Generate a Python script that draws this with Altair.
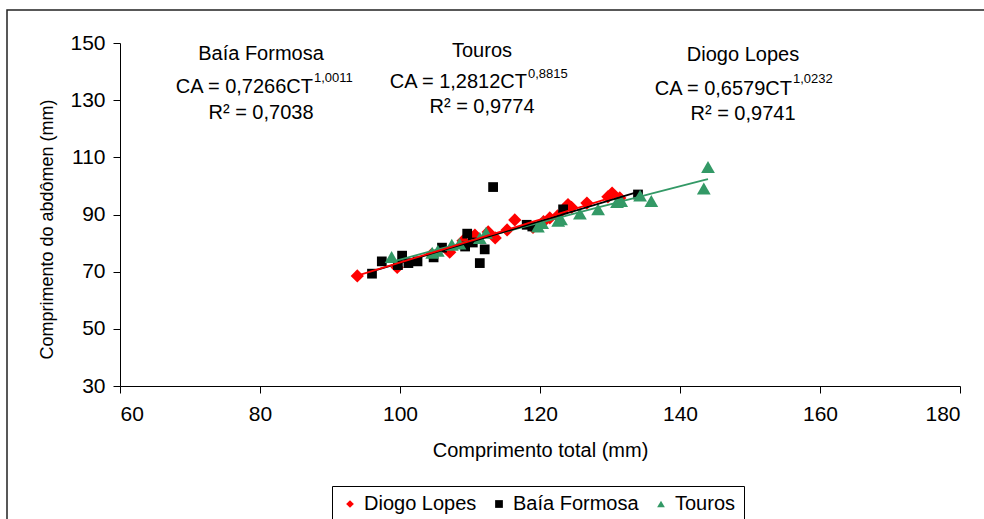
import altair as alt
import pandas as pd

# Series names, colours, marker shapes and marker areas (legend order)
sites = ["Diogo Lopes", "Baía Formosa", "Touros"]
colors = ["#ff0000", "#000000", "#339966"]
shapes = ["diamond", "square", "triangle-up"]
marker_sizes = [175, 95, 190]

# Power fits CA = a * CT^b for each site
fit_a = [0.6579, 0.7266, 1.2812]
fit_b = [1.0232, 1.0011, 0.8815]
fit_a_txt = ["0,6579", "0,7266", "1,2812"]
fit_b_txt = ["1,0232", "1,0011", "0,8815"]
fit_r2_txt = ["0,9741", "0,7038", "0,9774"]

# Comprimento total (CT) and comprimento do abdômen (CA), in mm
dl_ct = [93.9, 99.6, 104.5, 107.1, 109.0, 110.7, 112.6, 113.6, 115.3, 116.4,
         119.0, 120.5, 121.4, 122.5, 124.0, 124.5, 126.7, 129.7, 130.3, 131.4]
dl_ca = [68.5, 71.5, 76.0, 76.8, 80.8, 82.8, 83.9, 81.8, 84.6, 88.1,
         85.5, 87.5, 88.8, 89.5, 93.5, 92.5, 94.0, 96.2, 97.5, 95.8]

bf_ct = [96.0, 97.4, 99.7, 100.3, 101.2, 102.5, 104.8, 106.0, 109.3, 109.6,
         110.4, 111.4, 112.1, 113.3, 118.1, 118.9, 123.3, 134.0]
bf_ca = [69.3, 73.6, 72.3, 75.6, 73.0, 73.6, 75.0, 78.4, 78.8, 83.3,
         80.2, 73.0, 77.8, 99.6, 86.4, 85.8, 91.8, 97.0]

to_ct = [98.8, 104.6, 105.4, 107.4, 108.5, 111.4, 112.3, 119.7, 120.3, 122.6,
         123.0, 125.7, 128.3, 131.0, 131.6, 134.3, 135.9, 143.4, 144.0]
to_ca = [75.1, 76.6, 77.3, 79.4, 79.8, 81.8, 83.6, 85.8, 87.0, 87.8,
         88.3, 90.3, 91.8, 94.4, 94.7, 96.6, 94.7, 99.1, 106.6]

series_ct = [dl_ct, bf_ct, to_ct]
series_ca = [dl_ca, bf_ca, to_ca]

rows = []
for i, site in enumerate(sites):
    for ct, ca in zip(series_ct[i], series_ca[i]):
        rows.append({"site": site, "CT": ct, "CA": ca, "a": fit_a[i], "b": fit_b[i]})
df = pd.DataFrame(rows)

FONT = "Liberation Sans"

x_enc = alt.X(
    "CT:Q",
    scale=alt.Scale(domain=[60, 180], nice=False, zero=False),
    axis=alt.Axis(
        title="Comprimento total (mm)",
        values=[60, 80, 100, 120, 140, 160, 180],
        labelPadding=10,
        titleY=70,
        titleBaseline="alphabetic",
    ),
)

def y_enc(field):
    return alt.Y(
        field,
        scale=alt.Scale(domain=[30, 150], nice=False, zero=False),
        axis=alt.Axis(
            title="Comprimento do abdômen (mm)",
            values=[30, 50, 70, 90, 110, 130, 150],
            labelPadding=8,
            titleX=-68,
            titleY=186,
            titleAngle=-90,
            titleAlign="center",
            titleBaseline="alphabetic",
            titleFontSize=18,
        ),
    )

# Outer frame around the figure
frame = alt.Chart(alt.Data(values=[{}])).mark_rect(
    fill="transparent", stroke="#222222", strokeWidth=1.5
).encode(x=alt.value(-113), x2=alt.value(900), y=alt.value(-33), y2=alt.value(520))

# Marker area per site, kept out of the legend
size_expr = " : ".join(
    f"datum.site === '{s}' ? {marker_sizes[i]}" for i, s in enumerate(sites[:-1])
) + f" : {marker_sizes[-1]}"

points = alt.Chart(df).transform_calculate(msize=size_expr).mark_point(
    filled=True, opacity=1
).encode(
    x=x_enc,
    y=y_enc("CA:Q"),
    color=alt.Color("site:N", scale=alt.Scale(domain=sites, range=colors),
                    legend=alt.Legend(title=None)),
    shape=alt.Shape("site:N", scale=alt.Scale(domain=sites, range=shapes),
                    legend=alt.Legend(title=None)),
    size=alt.Size("msize:Q", scale=None),
)

# Fitted power curves, evaluated at each site's own CT values
line_order = [2, 1, 0]
lines = []
for i in line_order:
    lines.append(
        alt.Chart(df)
        .transform_filter(alt.datum.site == sites[i])
        .transform_calculate(fit="datum.a * pow(datum.CT, datum.b)")
        .mark_line(color=colors[i], strokeWidth=1.8)
        .encode(x=x_enc, y=y_enc("fit:Q"), order="CT:Q")
    )

# Equation annotations: site name, equation with raised exponent, R²
ann_name_x = [623, 141, 362]
ann_name_y = [18, 17, 14]
ann_eq_x = [672, 193, 407]
ann_eq_y = [52, 50, 45]
ann_sup_y = [40, 39, 35]
ann_r2_y = [77, 76, 70]

texts = []
one = alt.Data(values=[{}])
for i in range(3):
    base = alt.Chart(one)
    texts.append(base.mark_text(text=sites[i], fontSize=20, font=FONT, align="center",
                                baseline="alphabetic", color="black")
                 .encode(x=alt.value(ann_name_x[i]), y=alt.value(ann_name_y[i])))
    texts.append(base.mark_text(text=f"CA = {fit_a_txt[i]}CT", fontSize=20, font=FONT,
                                align="right", baseline="alphabetic", color="black")
                 .encode(x=alt.value(ann_eq_x[i]), y=alt.value(ann_eq_y[i])))
    texts.append(base.mark_text(text=fit_b_txt[i], fontSize=13, font=FONT,
                                align="left", baseline="alphabetic", color="black")
                 .encode(x=alt.value(ann_eq_x[i] + 1), y=alt.value(ann_sup_y[i])))
    texts.append(base.mark_text(text=f"R² = {fit_r2_txt[i]}", fontSize=20, font=FONT,
                                align="center", baseline="alphabetic", color="black")
                 .encode(x=alt.value(ann_name_x[i]), y=alt.value(ann_r2_y[i])))

chart = (
    alt.layer(frame, points, *lines, *texts)
    .properties(
        width=840,
        height=343,
        autosize=alt.AutoSizeParams(type="none"),
        padding={"left": 120, "top": 43, "right": 24, "bottom": 133},
        background="white",
    )
    .configure_view(stroke=None)
    .configure_axis(
        grid=False,
        domainColor="black",
        tickColor="black",
        labelColor="black",
        titleColor="black",
        labelFont=FONT,
        titleFont=FONT,
        labelFontSize=21,
        titleFontSize=20,
        titleFontWeight="normal",
        tickSize=7,
        domainWidth=1,
        tickWidth=1,
    )
    .configure_legend(
        orient="none",
        direction="horizontal",
        legendX=212,
        legendY=443,
        strokeColor="black",
        fillColor="white",
        padding=8,
        labelFont=FONT,
        labelFontSize=20,
        labelColor="black",
        symbolSize=60,
        symbolStrokeWidth=0,
        labelOffset=4,
        columnPadding=12,
    )
)

chart.save("out.html", embed_options={"renderer": "svg", "actions": False})
